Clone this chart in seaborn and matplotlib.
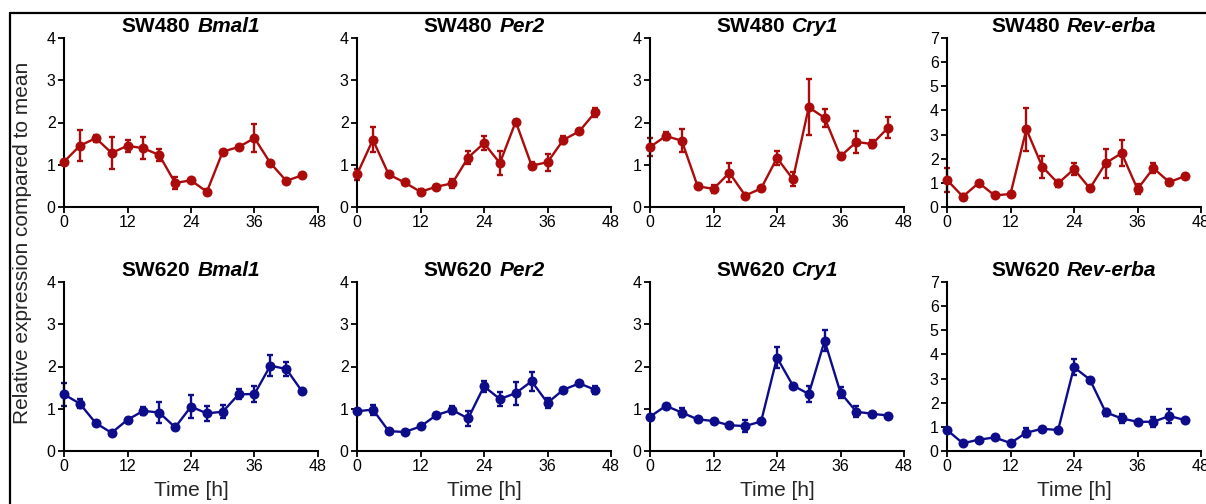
import numpy as np
import pandas as pd
import matplotlib
matplotlib.use("Agg")
import matplotlib.pyplot as plt
import seaborn as sns
from matplotlib.offsetbox import TextArea, HPacker, AnchoredOffsetbox
from matplotlib.lines import Line2D

sns.set_theme(style="ticks")
plt.rcParams['font.family'] = ['Liberation Sans', 'DejaVu Sans']

time_h = [0, 3, 6, 9, 12, 15, 18, 21, 24, 27, 30, 33, 36, 39, 42, 45]
genes = ["Bmal1", "Per2", "Cry1", "Rev-erba"]
cell_lines = ["SW480", "SW620"]

sw480_bmal1 = [1.07, 1.45, 1.63, 1.28, 1.45, 1.39, 1.23, 0.57, 0.63, 0.36, 1.31, 1.42, 1.63, 1.04, 0.62, 0.75]
sw480_bmal1_err = [0.05, 0.37, 0.08, 0.38, 0.14, 0.26, 0.15, 0.15, 0.04, 0.06, 0.04, 0.04, 0.33, 0.04, 0.04, 0.04]
sw480_per2 = [0.77, 1.59, 0.77, 0.58, 0.36, 0.48, 0.56, 1.17, 1.51, 1.04, 2.02, 0.98, 1.06, 1.59, 1.79, 2.24]
sw480_per2_err = [0.12, 0.30, 0.04, 0.04, 0.07, 0.04, 0.10, 0.15, 0.17, 0.28, 0.04, 0.08, 0.20, 0.10, 0.04, 0.10]
sw480_cry1 = [1.42, 1.68, 1.57, 0.49, 0.43, 0.81, 0.27, 0.44, 1.16, 0.66, 2.36, 2.11, 1.20, 1.54, 1.49, 1.88]
sw480_cry1_err = [0.22, 0.10, 0.28, 0.04, 0.10, 0.22, 0.04, 0.04, 0.17, 0.17, 0.66, 0.22, 0.04, 0.27, 0.10, 0.25]
sw480_reverba = [1.12, 0.43, 1.00, 0.48, 0.54, 3.22, 1.67, 0.98, 1.57, 0.77, 1.82, 2.23, 0.74, 1.61, 1.03, 1.28]
sw480_reverba_err = [0.50, 0.10, 0.05, 0.05, 0.05, 0.90, 0.45, 0.15, 0.25, 0.05, 0.60, 0.55, 0.22, 0.22, 0.12, 0.10]

sw620_bmal1 = [1.34, 1.12, 0.66, 0.43, 0.74, 0.95, 0.91, 0.56, 1.05, 0.89, 0.93, 1.34, 1.35, 2.02, 1.94, 1.41]
sw620_bmal1_err = [0.27, 0.10, 0.04, 0.04, 0.04, 0.10, 0.25, 0.04, 0.28, 0.17, 0.15, 0.12, 0.20, 0.25, 0.17, 0.04]
sw620_per2 = [0.94, 0.98, 0.47, 0.45, 0.58, 0.85, 0.97, 0.77, 1.53, 1.23, 1.37, 1.65, 1.14, 1.45, 1.60, 1.45]
sw620_per2_err = [0.04, 0.12, 0.04, 0.04, 0.04, 0.04, 0.10, 0.18, 0.13, 0.17, 0.27, 0.22, 0.12, 0.04, 0.04, 0.10]
sw620_cry1 = [0.81, 1.07, 0.91, 0.75, 0.71, 0.61, 0.59, 0.70, 2.21, 1.55, 1.35, 2.61, 1.38, 0.93, 0.88, 0.84]
sw620_cry1_err = [0.04, 0.04, 0.10, 0.04, 0.04, 0.04, 0.15, 0.04, 0.25, 0.04, 0.18, 0.25, 0.13, 0.13, 0.04, 0.04]
sw620_reverba = [0.87, 0.32, 0.47, 0.56, 0.33, 0.76, 0.92, 0.87, 3.47, 2.96, 1.60, 1.35, 1.21, 1.21, 1.45, 1.28]
sw620_reverba_err = [0.05, 0.05, 0.05, 0.05, 0.05, 0.20, 0.05, 0.05, 0.32, 0.05, 0.15, 0.17, 0.05, 0.20, 0.30, 0.05]

series = {
    ("SW480", "Bmal1"): (sw480_bmal1, sw480_bmal1_err),
    ("SW480", "Per2"): (sw480_per2, sw480_per2_err),
    ("SW480", "Cry1"): (sw480_cry1, sw480_cry1_err),
    ("SW480", "Rev-erba"): (sw480_reverba, sw480_reverba_err),
    ("SW620", "Bmal1"): (sw620_bmal1, sw620_bmal1_err),
    ("SW620", "Per2"): (sw620_per2, sw620_per2_err),
    ("SW620", "Cry1"): (sw620_cry1, sw620_cry1_err),
    ("SW620", "Rev-erba"): (sw620_reverba, sw620_reverba_err),
}
colors = {"SW480": "#ac0b0b", "SW620": "#0d0d8c"}
ymax = {"Bmal1": 4, "Per2": 4, "Cry1": 4, "Rev-erba": 7}

W, H = 1206, 504
fig = plt.figure(figsize=(W / 100, H / 100), dpi=100)

lefts = [64, 357, 650, 947]
axw = 254
rows_px = [(38, 207), (282, 451)]

for r, cl in enumerate(cell_lines):
    top_px, bot_px = rows_px[r]
    for c, g in enumerate(genes):
        ax = fig.add_axes([lefts[c] / W, 1 - bot_px / H, axw / W, (bot_px - top_px) / H])
        vals, errs = series[(cl, g)]
        df = pd.DataFrame({"t": time_h, "v": vals, "e": errs})
        col = colors[cl]
        ax.errorbar(df["t"], df["v"], yerr=df["e"], fmt="none", ecolor=col,
                    elinewidth=1.7, capsize=2.2, capthick=1.7, clip_on=False, zorder=2)
        sns.lineplot(data=df, x="t", y="v", ax=ax, color=col, linewidth=1.7,
                     marker="o", markersize=7.2, markeredgewidth=0, clip_on=False,
                     zorder=3, legend=False)
        ax.set_xlim(0, 48)
        ax.set_ylim(0, ymax[g])
        ax.set_xticks([0, 12, 24, 36, 48])
        ax.set_yticks(range(0, ymax[g] + 1))
        ax.set_xlabel("Time [h]" if r == 1 else "", fontsize=15, labelpad=5)
        ax.set_ylabel("")
        ax.tick_params(axis="both", direction="out", length=4, width=1.3,
                       labelsize=11.5, pad=2, colors="black")
        for s in ["left", "bottom"]:
            ax.spines[s].set_linewidth(1.5)
            ax.spines[s].set_color("black")
        sns.despine(ax=ax)
        ax.set_facecolor("none")
        t1 = TextArea(cl, textprops=dict(fontsize=15, fontweight="bold", color="black"))
        t2 = TextArea(g, textprops=dict(fontsize=15, fontweight="bold", fontstyle="italic", color="black"))
        box = HPacker(children=[t1, t2], align="baseline", pad=0, sep=5)
        ab = AnchoredOffsetbox(loc="lower center", child=box, pad=0, frameon=False,
                               bbox_to_anchor=(0.5, 1.0), bbox_transform=ax.transAxes,
                               borderpad=0.1)
        ax.add_artist(ab)

fig.text(23 / W, 1 - 243 / H, "Relative expression compared to mean", rotation=90,
         ha="center", va="center", fontsize=15)

fig.add_artist(Line2D([10 / W, 1.0], [1 - 13 / H, 1 - 13 / H], color="black", linewidth=1.6,
                      transform=fig.transFigure))
fig.add_artist(Line2D([10 / W, 10 / W], [1 - 13 / H, 0.0], color="black", linewidth=1.6,
                      transform=fig.transFigure))

fig.savefig("out.png", dpi=100, facecolor="white")
